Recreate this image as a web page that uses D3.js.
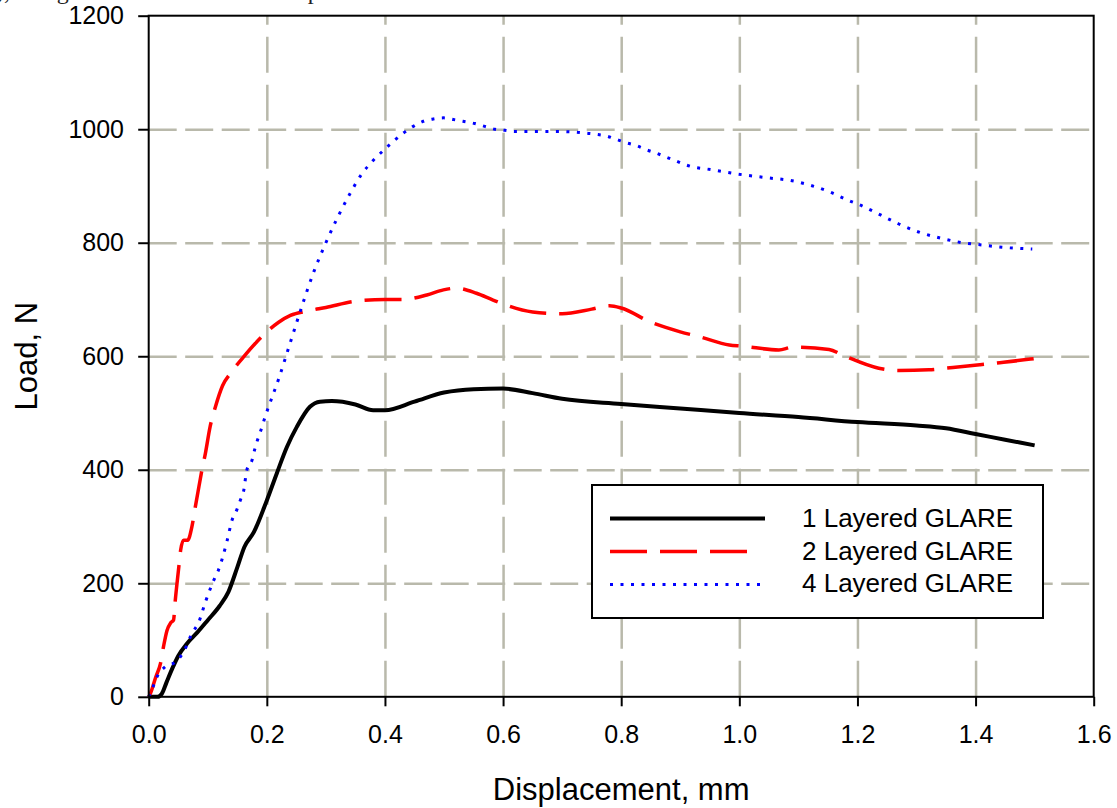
<!DOCTYPE html>
<html>
<head>
<meta charset="utf-8">
<script src="https://cdn.jsdelivr.net/npm/d3@7"></script>
<style>
    body { margin: 0; background: #fff; }
    svg { display: block; font-family: "Liberation Sans", Arial, sans-serif; }
    .grid line { stroke: #b9b9ab; stroke-width: 2.5; }
    .grid .domain { display: none; }
    .axis .domain { display: none; }
    .axis line { stroke: #000; stroke-width: 2; }
    .axis text { font-size: 25px; fill: #000; font-family: "Liberation Sans", Arial, sans-serif; }
    .axis-label { font-size: 31px; fill: #000; }
    .legend-text { font-size: 26px; fill: #000; }
</style>
</head>
<body>
<div id="chart"></div>
<script>
const width = 1117;
const height = 808;

const plot = { left: 148.7, right: 1093.7, top: 15.7, bottom: 696.8 };

// ticks
const xTicks = [0, 0.2, 0.4, 0.6, 0.8, 1.0, 1.2, 1.4, 1.6];
const yTicks = [0, 200, 400, 600, 800, 1000, 1200];

// series
const seriesNames = ["1 Layered GLARE", "2 Layered GLARE", "4 Layered GLARE"];

const disp1 = [0, 0.015, 0.022, 0.03, 0.04, 0.05, 0.065, 0.082, 0.1, 0.12, 0.135, 0.15, 0.162, 0.178, 0.2,
    0.217, 0.234, 0.251, 0.273, 0.29, 0.31, 0.35, 0.38, 0.4, 0.45, 0.5, 0.55, 0.6, 0.65, 0.7, 0.8,
    0.9, 1.0, 1.1, 1.2, 1.3, 1.35, 1.4, 1.45, 1.5];
const load1 = [0, 0, 5, 25, 50, 72, 94, 113, 135, 160, 185, 228, 264, 290, 346,
    394, 440, 476, 511, 520, 521, 515, 505, 505, 520, 536, 542, 543, 535, 525, 516,
    508, 500, 493, 484, 478, 473, 463, 453, 443];

const disp2 = [0, 0.003, 0.012, 0.02, 0.025, 0.031, 0.037, 0.042, 0.045, 0.051, 0.054, 0.059, 0.066,
    0.073, 0.079, 0.085, 0.09, 0.096, 0.104, 0.113, 0.125, 0.14, 0.16, 0.18, 0.2, 0.22, 0.24,
    0.27, 0.3, 0.35, 0.4, 0.43, 0.471, 0.499, 0.521, 0.555, 0.583, 0.6, 0.65, 0.7, 0.75, 0.78,
    0.8, 0.85, 0.9, 0.934, 0.983, 1.005, 1.067, 1.09, 1.152, 1.175, 1.236, 1.27, 1.321, 1.35,
    1.407, 1.434, 1.493, 1.5];
const load2 = [0, 6, 35, 59, 88, 117, 130, 135, 170, 229, 258, 276, 276,
    299, 335, 370, 399, 429, 476, 511, 548, 572, 598, 622, 643, 660, 672,
    680, 686, 697, 700, 700, 708, 717, 720, 711, 699, 692, 678, 675, 683, 689,
    685, 660, 643, 634, 620, 618, 611, 616, 612, 602, 579, 575, 576, 579,
    585, 588, 595, 596];

const disp4 = [0, 0.003, 0.014, 0.028, 0.045, 0.059, 0.073, 0.085, 0.096, 0.11, 0.118, 0.133, 0.141,
    0.149, 0.155, 0.161, 0.166, 0.175, 0.18, 0.186, 0.192, 0.197, 0.203, 0.22, 0.24, 0.26, 0.28,
    0.3, 0.32, 0.34, 0.36, 0.38, 0.4, 0.431, 0.448, 0.465, 0.482, 0.499, 0.516, 0.532, 0.552,
    0.569, 0.586, 0.603, 0.62, 0.654, 0.688, 0.721, 0.741, 0.758, 0.775, 0.792, 0.809, 0.826,
    0.842, 0.859, 0.876, 0.893, 0.91, 0.929, 0.944, 0.997, 1.051, 1.085, 1.118, 1.152, 1.186,
    1.203, 1.239, 1.27, 1.306, 1.341, 1.378, 1.411, 1.445, 1.496];
const load4 = [0, 6, 35, 53, 61, 79, 111, 132, 167, 205, 223, 276, 311,
    329, 346, 364, 399, 417, 438, 458, 476, 493, 511, 560, 625, 690, 750,
    800, 845, 885, 920, 945, 965, 993, 1005, 1014, 1018, 1020, 1017, 1014, 1010,
    1005, 1000, 998, 996, 996, 996, 995, 993, 991, 988, 982, 976, 971,
    964, 958, 951, 944, 937, 932, 930, 921, 914, 910, 902, 890, 874,
    867, 849, 833, 818, 808, 800, 796, 792, 789];

const seriesColors = ["#000000", "#ff0000", "#0000ff"];
const seriesDash = [null, "37,13", "3,7.5"];
const seriesWidth = [4, 3.5, 3];

const svg = d3.select("#chart")
    .append("svg")
    .attr("width", width)
    .attr("height", height);

const x = d3.scaleLinear()
    .domain([0, 1.6])
    .range([plot.left, plot.right]);

const y = d3.scaleLinear()
    .domain([0, 1200])
    .range([plot.bottom, plot.top]);

// cut-off caption line at the very top (only descenders show)
svg.append("text")
    .attr("x", -4)
    .attr("y", -1)
    .style("font-family", "'Liberation Serif', 'Times New Roman', serif")
    .style("font-size", "24px")
    .attr("fill", "#222")
    .text("), and glass fibre reinforced composite laminates");

// GRID
svg.append("g")
    .attr("class", "grid")
    .attr("transform", `translate(${plot.left},0)`)
    .call(d3.axisLeft(y)
        .tickValues(yTicks.slice(1, -1))
        .tickSize(-(plot.right - plot.left))
        .tickFormat(""))
    .selectAll("line")
    .attr("stroke-dasharray", "28,8.5");

svg.append("g")
    .attr("class", "grid")
    .attr("transform", `translate(0,${plot.bottom})`)
    .call(d3.axisBottom(x)
        .tickValues(xTicks.slice(1, -1))
        .tickSize(-(plot.bottom - plot.top))
        .tickFormat(""))
    .selectAll("line")
    .attr("stroke-dasharray", "36,12");

// LINES
const line = d3.line()
    .x(d => x(d[0]))
    .y(d => y(d[1]))
    .curve(d3.curveMonotoneX);

const allSeries = [
    d3.zip(disp1, load1),
    d3.zip(disp2, load2),
    d3.zip(disp4, load4)
];

allSeries.forEach((pts, i) => {
    svg.append("path")
        .datum(pts)
        .attr("fill", "none")
        .attr("stroke", seriesColors[i])
        .attr("stroke-width", seriesWidth[i])
        .attr("stroke-dasharray", seriesDash[i])
        .attr("stroke-linejoin", "round")
        .attr("d", line);
});

// FRAME
svg.append("rect")
    .attr("x", plot.left)
    .attr("y", plot.top)
    .attr("width", plot.right - plot.left)
    .attr("height", plot.bottom - plot.top)
    .attr("fill", "none")
    .attr("stroke", "#000")
    .attr("stroke-width", 2);

// X AXIS
svg.append("g")
    .attr("class", "axis")
    .attr("transform", `translate(0,${plot.bottom})`)
    .call(d3.axisBottom(x)
        .tickValues(xTicks)
        .tickSize(9.5)
        .tickPadding(19)
        .tickFormat(d3.format(".1f")));

// Y AXIS
svg.append("g")
    .attr("class", "axis")
    .attr("transform", `translate(${plot.left},0)`)
    .call(d3.axisLeft(y)
        .tickValues(yTicks)
        .tickSize(10.5)
        .tickPadding(14.2)
        .tickFormat(d3.format("d")));

// X LABEL
svg.append("text")
    .attr("class", "axis-label")
    .attr("x", (plot.left + plot.right) / 2)
    .attr("y", 800)
    .attr("text-anchor", "middle")
    .text("Displacement, mm");

// Y LABEL
svg.append("text")
    .attr("class", "axis-label")
    .attr("transform", `translate(37,${(plot.top + plot.bottom) / 2}) rotate(-90)`)
    .attr("text-anchor", "middle")
    .text("Load, N");

// LEGEND
const legend = svg.append("g");

legend.append("rect")
    .attr("x", 592)
    .attr("y", 485)
    .attr("width", 451)
    .attr("height", 133)
    .attr("fill", "#fff")
    .attr("stroke", "#000")
    .attr("stroke-width", 2);

const legendEnd = [765, 750, 760];

seriesNames.forEach((name, i) => {
    const ly = 518.5 + i * 33;
    legend.append("line")
        .attr("x1", 610)
        .attr("x2", legendEnd[i])
        .attr("y1", ly)
        .attr("y2", ly)
        .attr("stroke", seriesColors[i])
        .attr("stroke-width", seriesWidth[i])
        .attr("stroke-dasharray", seriesDash[i]);

    legend.append("text")
        .attr("class", "legend-text")
        .attr("x", 802)
        .attr("y", 527 + i * 32.5)
        .text(name);
});
</script>
</body>
</html>
